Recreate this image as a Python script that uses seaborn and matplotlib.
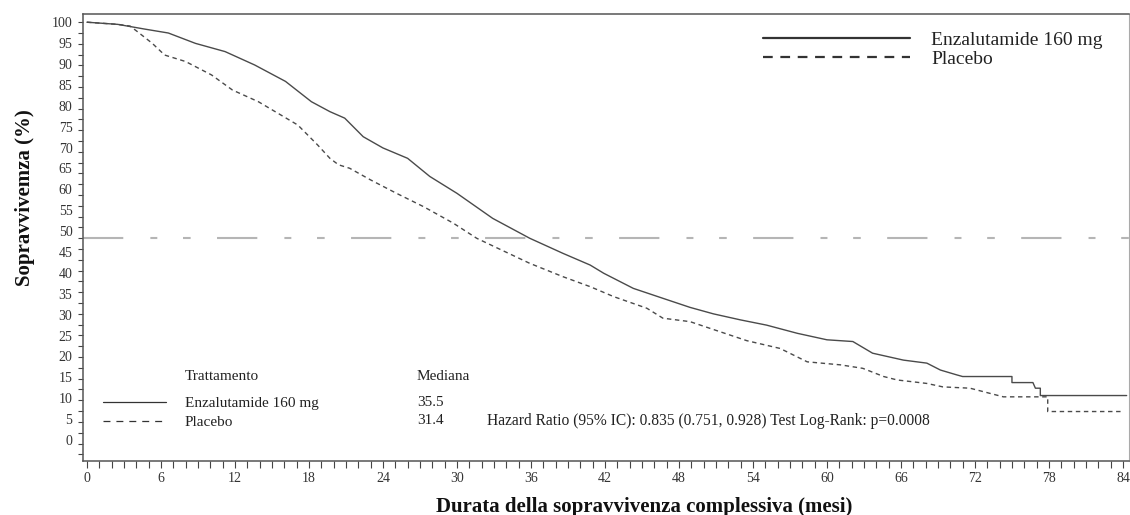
import numpy as np
import pandas as pd
import matplotlib
matplotlib.use("Agg")
import matplotlib.pyplot as plt
from matplotlib.lines import Line2D
import seaborn as sns

# ---------------- data ----------------
treatments = ["Enzalutamide 160 mg", "Placebo"]
medians = ["35.5", "31.4"]
table_header = ["Trattamento", "Mediana"]
stats_text = "Hazard Ratio (95% IC): 0.835 (0.751, 0.928) Test Log-Rank: p=0.0008"
x_label = "Durata della sopravvivenza complessiva (mesi)"
y_label = "Sopravvivemza (%)"

enza_months = [0, 2.5, 4.7, 6.6, 8.8, 11.2, 13.6, 16.1, 18.2, 19.7, 20.9, 22.4,
               24.0, 26.0, 27.8, 30.0, 32.9, 35.9, 38.6, 40.8, 41.9, 44.3, 46.7,
               48.9, 50.8, 53.0, 55.1, 57.6, 60.0, 62.1, 63.7, 66.2, 68.1, 69.2,
               70.5, 71.0, 75.0, 75.0, 76.7, 76.9, 77.3, 77.3, 84.3]
enza_surv = [100, 99.5, 98.4, 97.5, 95.1, 93.2, 90.1, 86.3, 81.6, 79.3, 77.8, 73.5,
             70.9, 68.5, 64.3, 60.4, 54.6, 50.0, 46.5, 43.8, 41.9, 38.4, 36.1,
             34.0, 32.5, 31.1, 29.9, 28.0, 26.5, 26.1, 23.4, 21.8, 21.1, 19.5,
             18.4, 18.0, 18.0, 16.6, 16.6, 15.3, 15.3, 13.6, 13.6]

placebo_months = [0, 2.5, 3.5, 4.1, 5.3, 6.3, 8.0, 10.1, 11.8, 13.9, 15.5, 17.1,
                  18.7, 19.7, 20.4, 21.3, 23.0, 25.1, 27.3, 29.7, 31.6, 33.3, 35.9,
                  38.6, 40.8, 42.7, 45.4, 46.7, 48.9, 51.3, 53.5, 56.2, 58.4, 61.1,
                  62.9, 64.6, 65.7, 68.1, 69.4, 71.6, 74.3, 77.9, 77.9, 83.9]
placebo_surv = [100, 99.5, 99.1, 97.8, 95.1, 92.4, 90.9, 87.8, 84.3, 81.6, 78.9, 76.2,
                71.6, 68.5, 67.0, 66.2, 63.5, 60.4, 57.3, 53.5, 50.0, 47.7, 44.2,
                41.1, 38.8, 36.5, 33.8, 31.5, 30.7, 28.4, 26.3, 24.5, 21.4, 20.7,
                19.9, 18.0, 17.2, 16.4, 15.6, 15.3, 13.3, 13.3, 9.9, 9.9]

median_ref = 50
x_ticks = list(range(0, 85, 6))
y_ticks = list(range(0, 101, 5))

# ---------------- figure ----------------
W, H = 1130, 515
def fx(px):
    return px / W
def fy(py):
    return 1 - py / H

sns.set_theme(style="white")
plt.rcParams["font.family"] = ["Liberation Serif", "DejaVu Serif"]
plt.rcParams["lines.scale_dashes"] = False

fig = plt.figure(figsize=(W / 100, H / 100), dpi=100)
ax = fig.add_axes([fx(83), fy(460.7), (1129 - 83) / W, (460.7 - 14) / H])

df = pd.concat([
    pd.DataFrame({"Mesi": enza_months, "Sopravvivenza": enza_surv, "Trattamento": treatments[0]}),
    pd.DataFrame({"Mesi": placebo_months, "Sopravvivenza": placebo_surv, "Trattamento": treatments[1]}),
])

curve_styles = {treatments[0]: "-", treatments[1]: (0, (3.2, 2.6))}
for t in treatments:
    sns.lineplot(data=df[df["Trattamento"] == t], x="Mesi", y="Sopravvivenza",
                 estimator=None, sort=False, ax=ax, color="#4a4a4a",
                 linewidth=1.0, linestyle=curve_styles[t], legend=False, zorder=3)

ax.axhline(median_ref, color="#b5b5b5", lw=1.5,
           ls=(0, (29, 19.5, 5, 18.5, 5.5, 19)), zorder=1)

ax.set_xlim(-0.32, 84.49)
ax.set_ylim(-1.48, 101.9)
ax.set_xlabel("")
ax.set_ylabel("")

ax.set_xticks(x_ticks)
ax.set_xticks(np.arange(0, 85, 1), minor=True)
ax.set_xticklabels([str(v) for v in x_ticks])
ax.tick_params(axis="x", which="both", direction="out", length=5.3, width=0.8,
               color="#444444", bottom=True, labelsize=10, pad=3.0, labelcolor="#333333")

ax.set_yticks(y_ticks)
ax.set_yticks(np.arange(0, 101, 2.5), minor=True)
ax.tick_params(axis="y", which="both", direction="out", length=3.6, width=0.8,
               color="#444444", left=True, labelleft=False)

# tick labels as printed in the reference (slightly drifting scale)
sec = ax.secondary_yaxis("left", functions=(lambda d: 1.0342 * d - 3.42,
                                            lambda v: (v + 3.42) / 1.0342))
sec.set_yticks(y_ticks)
sec.set_yticklabels([str(v) for v in y_ticks])
sec.tick_params(length=0, labelsize=10, pad=7.6, labelcolor="#333333")
sec.spines["left"].set_visible(False)

for name, s in ax.spines.items():
    s.set_visible(True)
    s.set_color("#555555")
    s.set_linewidth(1.1)
ax.spines["right"].set_color("#aaaaaa")
ax.spines["right"].set_linewidth(0.8)

# top-right legend
h1 = [Line2D([], [], color="#333333", lw=1.6, ls="-"),
      Line2D([], [], color="#333333", lw=1.6, ls=(0, (7, 5.5)))]
leg1 = ax.legend(h1, treatments, loc="upper left",
                 bbox_to_anchor=(fx(763), fy(31)), bbox_transform=fig.transFigure,
                 frameon=False, fontsize=14, handlelength=7.57, handletextpad=1.08,
                 labelspacing=0.08, borderpad=0, borderaxespad=0)
for txt in leg1.get_texts():
    txt.set_color("#222222")
ax.add_artist(leg1)

# bottom-left table legend
h2 = [Line2D([], [], color="#333333", lw=0.9, ls="-"),
      Line2D([], [], color="#333333", lw=0.9, ls=(0, (5, 4.3)))]
leg2 = ax.legend(h2, treatments, loc="upper left",
                 bbox_to_anchor=(fx(103), fy(396.5)), bbox_transform=fig.transFigure,
                 frameon=False, fontsize=11, handlelength=4.1, handletextpad=1.24,
                 labelspacing=0.36, borderpad=0, borderaxespad=0)
for txt in leg2.get_texts():
    txt.set_color("#222222")

tkw = dict(fontsize=11, color="#222222", va="center", ha="left")
fig.text(fx(185), fy(377), table_header[0], **tkw)
fig.text(fx(417), fy(377), table_header[1], **tkw)
fig.text(fx(417), fy(403), medians[0], **tkw)
fig.text(fx(417), fy(421), medians[1], **tkw)
fig.text(fx(487), fy(421), stats_text, fontsize=11.2, color="#222222", va="center", ha="left")

fig.text(fx(644.5), fy(511.7), x_label, fontsize=15, fontweight="bold",
         ha="center", va="baseline", color="#111111")
fig.text(fx(25), fy(197.5), y_label, fontsize=15, fontweight="bold",
         rotation=90, ha="center", va="center", color="#111111")

fig.savefig("out.png", dpi=100)
